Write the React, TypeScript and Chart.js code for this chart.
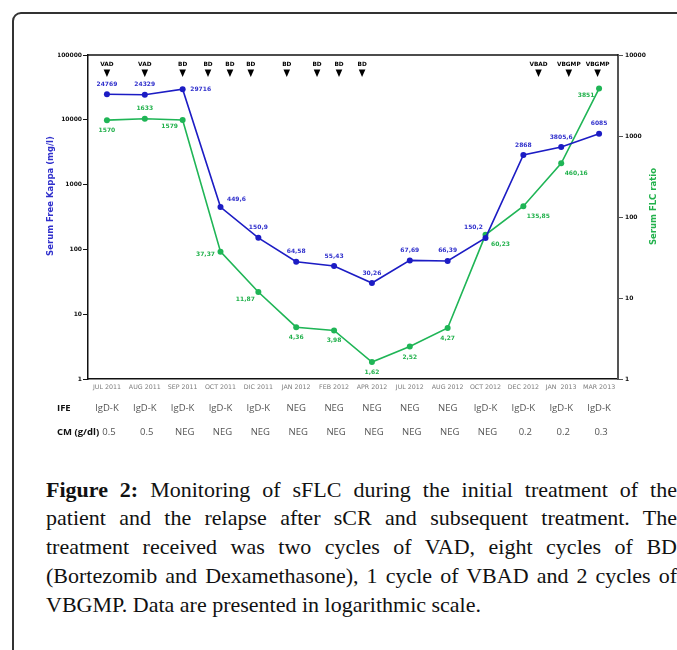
import React, { useEffect, useRef } from 'react';
import { Chart, registerables } from 'chart.js';
Chart.register(...registerables);

const months = ['JUL 2011', 'AUG 2011', 'SEP 2011', 'OCT 2011', 'DIC 2011', 'JAN 2012', 'FEB 2012', 'APR 2012', 'JUL 2012', 'AUG 2012', 'OCT 2012', 'DEC 2012', 'JAN  2013', 'MAR 2013'];
const kappa = [24769, 24329, 29716, 449.6, 150.9, 64.58, 55.43, 30.26, 67.69, 66.39, 150.2, 2868, 3805.6, 6085];
const kappaText = ['24769', '24329', '29716', '449,6', '150,9', '64,58', '55,43', '30,26', '67,69', '66,39', '150,2', '2868', '3805,6', '6085'];
const ratio = [1570, 1633, 1579, 37.37, 11.87, 4.36, 3.98, 1.62, 2.52, 4.27, 60.23, 135.85, 460.16, 3851];
const ratioText = ['1570', '1633', '1579', '37,37', '11,87', '4,36', '3,98', '1,62', '2,52', '4,27', '60,23', '135,85', '460,16', '3851'];
const kappaPlace = ['t', 't', 'r', 'tr', 't', 't', 't', 't', 't', 't', 'tl', 't', 't', 't'];
const ratioPlace = ['b', 't', 'bl', 'l', 'bl', 'b', 'b', 'b', 'b', 'b', 'br', 'br', 'br', 'bl'];
const treatments = ['VAD', 'VAD', 'BD', 'BD', 'BD', 'BD', 'BD', 'BD', 'BD', 'BD', 'VBAD', 'VBGMP', 'VBGMP'];
const treatmentAt = [0, 1, 2, 2.67, 3.25, 3.8, 4.75, 5.55, 6.13, 6.74, 11.4, 12.2, 12.96];
const ife = ['IgD-K', 'IgD-K', 'IgD-K', 'IgD-K', 'IgD-K', 'NEG', 'NEG', 'NEG', 'NEG', 'NEG', 'IgD-K', 'IgD-K', 'IgD-K', 'IgD-K'];
const cm = ['0.5', '0.5', 'NEG', 'NEG', 'NEG', 'NEG', 'NEG', 'NEG', 'NEG', 'NEG', 'NEG', '0.2', '0.2', '0.3'];
const leftTicks = [1, 10, 100, 1000, 10000, 100000];
const rightTicks = [1, 10, 100, 1000, 10000];

const BLUE = '#1c1cc4';
const BLUE_T = '#3030cc';
const GREEN = '#1fb556';
const GREEN_T = '#22b14c';

const OFF: Record<string, [number, number]> = {
  t: [0, -10], b: [0, 10.5], r: [18, 0], l: [-15, 3],
  tr: [16, -8], tl: [-12, -11], bl: [-13, 7], br: [15, 10],
};

const overlay = {
  id: 'overlay',
  afterDraw(chart: any) {
    const { ctx, chartArea: ca, scales } = chart;
    const x = scales.x;
    ctx.save();
    // top frame line
    ctx.strokeStyle = '#111';
    ctx.lineWidth = 1.5;
    ctx.beginPath();
    ctx.moveTo(ca.left, ca.top);
    ctx.lineTo(ca.right, ca.top);
    ctx.stroke();

    // treatments
    ctx.fillStyle = '#000';
    ctx.font = 'bold 5.8px "DejaVu Sans"';
    ctx.textAlign = 'center';
    ctx.textBaseline = 'middle';
    treatments.forEach((t, i) => {
      const px = x.getPixelForValue(treatmentAt[i]);
      ctx.fillText(t, px, ca.top + 9);
      ctx.beginPath();
      ctx.moveTo(px - 3.3, ca.top + 14.5);
      ctx.lineTo(px + 3.3, ca.top + 14.5);
      ctx.lineTo(px, ca.top + 22);
      ctx.closePath();
      ctx.fill();
    });

    // data labels
    const drawLabels = (di: number, texts: string[], place: string[], color: string) => {
      const meta = chart.getDatasetMeta(di);
      ctx.fillStyle = color;
      meta.data.forEach((pt: any, i: number) => {
        const o = OFF[place[i]];
        ctx.fillText(texts[i], pt.x + o[0], pt.y + o[1]);
      });
    };
    ctx.font = 'bold 6px "DejaVu Sans"';
    drawLabels(0, kappaText, kappaPlace, BLUE_T);
    drawLabels(1, ratioText, ratioPlace, GREEN_T);

    // axis titles
    ctx.font = 'bold 8.5px "DejaVu Sans"';
    ctx.fillStyle = BLUE_T;
    ctx.save();
    ctx.translate(ca.left - 37, ca.top + 141);
    ctx.rotate(-Math.PI / 2);
    ctx.fillText('Serum Free Kappa (mg/l)', 0, 0);
    ctx.restore();
    ctx.fillStyle = GREEN_T;
    ctx.save();
    ctx.translate(ca.right + 36, ca.top + 151.5);
    ctx.rotate(-Math.PI / 2);
    ctx.fillText('Serum FLC ratio', 0, 0);
    ctx.restore();

    // IFE / CM rows
    const rowIfe = ca.bottom + 29;
    const rowCm = ca.bottom + 53;
    ctx.font = 'bold 9.5px "Open Sans"';
    ctx.fillStyle = '#111';
    ctx.textAlign = 'left';
    ctx.fillText('IFE', 57, rowIfe);
    ctx.fillText('CM (g/dl)', 57, rowCm);
    ctx.font = '9.5px "Open Sans"';
    ctx.fillStyle = '#555';
    ctx.textAlign = 'center';
    ife.forEach((t, i) => ctx.fillText(t, x.getPixelForValue(i), rowIfe));
    cm.forEach((t, i) => ctx.fillText(t, x.getPixelForValue(i) + 2, rowCm));
    ctx.restore();
  },
};

export default function App() {
  const ref = useRef<HTMLCanvasElement | null>(null);
  useEffect(() => {
    if (!ref.current) return;
    const chart = new Chart(ref.current, {
      type: 'line',
      data: {
        labels: months,
        datasets: [
          {
            data: kappa, yAxisID: 'yL', borderColor: BLUE, backgroundColor: BLUE,
            borderWidth: 1.6, pointRadius: 3, pointBorderWidth: 0, pointBackgroundColor: BLUE,
          },
          {
            data: ratio, yAxisID: 'yR', borderColor: GREEN, backgroundColor: GREEN,
            borderWidth: 1.6, pointRadius: 3, pointBorderWidth: 0, pointBackgroundColor: GREEN,
          },
        ],
      },
      options: {
        animation: false,
        responsive: false,
        layout: { padding: { left: 58, right: 29, top: 55, bottom: 51 } },
        plugins: { legend: { display: false }, tooltip: { enabled: false } },
        scales: {
          x: {
            type: 'category',
            offset: true,
            grid: { display: false, drawTicks: false },
            border: { display: true, color: '#111', width: 1.5 },
            ticks: { color: '#7a7a7a', font: { family: 'DejaVu Sans', size: 6.3 }, padding: 5, maxRotation: 0, autoSkip: false },
            afterFit: (s: any) => { s.height = 20; },
          },
          yL: {
            type: 'logarithmic',
            position: 'left',
            min: 1,
            max: 100000,
            afterBuildTicks: (s: any) => { s.ticks = leftTicks.map((v) => ({ value: v })); },
            ticks: { callback: (v: any) => String(v), color: '#111', font: { family: 'DejaVu Sans', size: 6, weight: 'bold' }, padding: 1 },
            grid: { drawOnChartArea: false, tickLength: 5, color: '#111' },
            border: { color: '#111', width: 1.5 },
            afterFit: (s: any) => { s.width = 30; },
          },
          yR: {
            type: 'logarithmic',
            position: 'right',
            min: 1,
            max: 10000,
            afterBuildTicks: (s: any) => { s.ticks = rightTicks.map((v) => ({ value: v })); },
            ticks: { callback: (v: any) => String(v), color: '#111', font: { family: 'DejaVu Sans', size: 6, weight: 'bold' }, padding: 2 },
            grid: { drawOnChartArea: false, tickLength: 5, color: '#555' },
            border: { color: '#555', width: 2 },
            afterFit: (s: any) => { s.width = 30; },
          },
        },
      },
      plugins: [overlay],
    } as any);
    return () => chart.destroy();
  }, []);

  const lineStyle: React.CSSProperties = { textAlign: 'justify', textAlignLast: 'justify' as any };
  return (
    <div style={{ position: 'relative', width: 677, height: 650, overflow: 'hidden', background: '#fff' }}>
      <style>{`html,body{margin:0;padding:0;overflow:hidden;}`}</style>
      <div style={{ position: 'absolute', left: 12, top: 12, width: 720, height: 720, border: '2px solid #333', borderTopLeftRadius: 9, boxSizing: 'border-box' }} />
      <canvas ref={ref} width={677} height={450} style={{ position: 'absolute', left: 0, top: 0 }} />
      <div style={{ position: 'absolute', left: 46, top: 475.5, width: 631, fontFamily: '"Liberation Serif", serif', fontSize: 22, lineHeight: '28.8px', color: '#111' }}>
        <div style={lineStyle}><b>Figure 2:</b> Monitoring of sFLC during the initial treatment of the</div>
        <div style={lineStyle}>patient and the relapse after sCR and subsequent treatment. The</div>
        <div style={lineStyle}>treatment received was two cycles of VAD, eight cycles of BD</div>
        <div style={lineStyle}>(Bortezomib and Dexamethasone), 1 cycle of VBAD and 2 cycles of</div>
        <div>VBGMP. Data are presented in logarithmic scale.</div>
      </div>
    </div>
  );
}
